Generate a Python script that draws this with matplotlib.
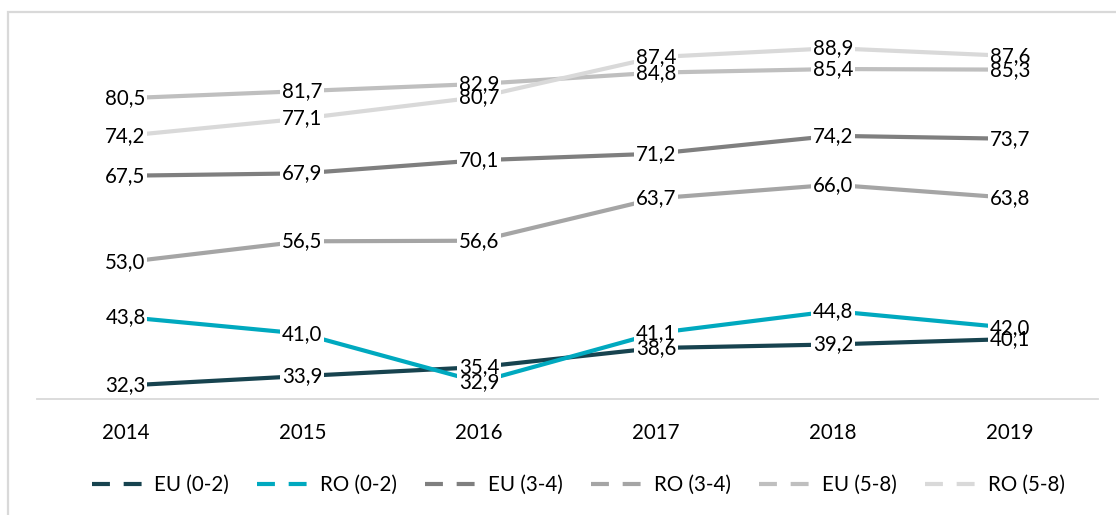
import matplotlib
matplotlib.use("Agg")
import matplotlib.pyplot as plt
from matplotlib.lines import Line2D
from matplotlib.patches import Rectangle

plt.rcParams['font.family'] = ['Lato', 'DejaVu Sans']

years = ["2014", "2015", "2016", "2017", "2018", "2019"]
series_names = ["EU (0-2)", "RO (0-2)", "EU (3-4)", "RO (3-4)", "EU (5-8)", "RO (5-8)"]
eu_0_2 = [32.3, 33.9, 35.4, 38.6, 39.2, 40.1]
ro_0_2 = [43.8, 41.0, 32.9, 41.1, 44.8, 42.0]
eu_3_4 = [67.5, 67.9, 70.1, 71.2, 74.2, 73.7]
ro_3_4 = [53.0, 56.5, 56.6, 63.7, 66.0, 63.8]
eu_5_8 = [80.5, 81.7, 82.9, 84.8, 85.4, 85.3]
ro_5_8 = [74.2, 77.1, 80.7, 87.4, 88.9, 87.6]
colors = ["#17434f", "#00a9bf", "#7f7f7f", "#a5a5a5", "#bfbfbf", "#d9d9d9"]

all_series = [eu_0_2, ro_0_2, eu_3_4, ro_3_4, eu_5_8, ro_5_8]

fig = plt.figure(figsize=(11.16, 5.15), dpi=100)
ax = fig.add_axes([0.0332, 0.2247, 0.9508, 0.6945])

x = list(range(len(years)))
for vals, c in zip(all_series, colors):
    ax.plot(x, vals, color=c, lw=3, solid_capstyle='butt', zorder=3)

fs = 14.8
for vals in all_series:
    for xi, v in zip(x, vals):
        lbl = f"{v:.1f}".replace(".", ",")
        z = 10 + (100 - v) * 0.01
        ax.text(xi, v, lbl, ha='center', va='center', fontsize=fs, color='none',
                bbox=dict(boxstyle='square,pad=0.08', fc='white', ec='none'),
                zorder=5, clip_on=False)
        ax.text(xi, v, lbl, ha='center', va='center', fontsize=fs, color='black',
                zorder=z, clip_on=False)

ax.set_xlim(-0.5, len(years) - 0.5)
ax.set_ylim(30, 90)
ax.set_xticks(x)
ax.set_xticklabels(years, fontsize=fs)
ax.tick_params(axis='x', length=0, pad=17)
ax.set_yticks([])
for s in ['top', 'right', 'left']:
    ax.spines[s].set_visible(False)
ax.spines['bottom'].set_color('#d9d9d9')
ax.spines['bottom'].set_linewidth(1.3)
ax.spines['bottom'].set_zorder(2)

handles = [Line2D([0], [0], color=c, lw=3, dashes=(4.3, 3.3)) for c in colors]
fig.legend(handles, series_names, loc='center', bbox_to_anchor=(0.518, 0.058),
           ncol=6, frameon=False, fontsize=fs, handlelength=2.7,
           handletextpad=0.35, columnspacing=1.38)

fig.patches.append(Rectangle((8 / 1116, -0.2), 1.2, 1.2 - 12 / 515,
                             transform=fig.transFigure, fill=False,
                             ec='#d9d9d9', lw=1.6))

fig.savefig("out.png", dpi=100)
